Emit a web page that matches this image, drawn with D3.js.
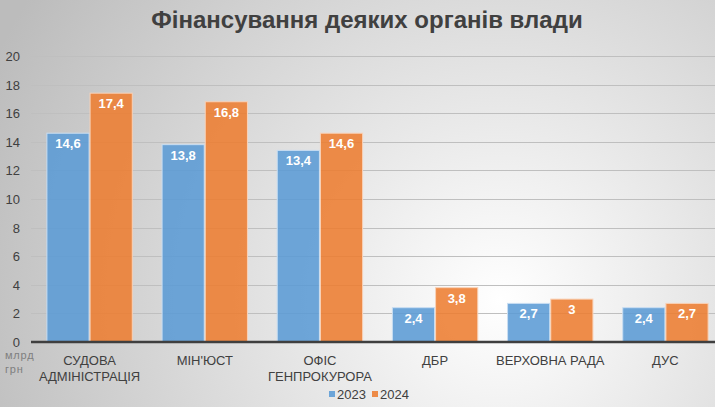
<!DOCTYPE html>
<html>
<head>
<meta charset="utf-8">
<script src="https://cdn.jsdelivr.net/npm/d3@7"></script>
<style>
  html, body { margin: 0; padding: 0; overflow: hidden; }
  svg { display: block; font-family: "Liberation Sans", Arial, sans-serif; }
</style>
</head>
<body>
<svg id="chart" width="715" height="407"></svg>
<script>
// data
const categories = [["СУДОВА", "АДМІНІСТРАЦІЯ"], ["МІН'ЮСТ"], ["ОФІС", "ГЕНПРОКУРОРА"], ["ДБР"], ["ВЕРХОВНА РАДА"], ["ДУС"]];
const years = ["2023", "2024"];
const values2023 = [14.6, 13.8, 13.4, 2.4, 2.7, 2.4];
const values2024 = [17.4, 16.8, 14.6, 3.8, 3, 2.7];
const yTicks = [0, 2, 4, 6, 8, 10, 12, 14, 16, 18, 20];

const W = 715, H = 407;
const fills = ["#5b9bd5", "#ed7d31"];
const strokes = ["#c9def2", "#f9d2b8"];

const svg = d3.select("#chart");

// background
const defs = svg.append("defs");
const bg = defs.append("radialGradient")
  .attr("id", "bg")
  .attr("gradientUnits", "userSpaceOnUse")
  .attr("cx", 500).attr("cy", 300).attr("r", 560);
bg.append("stop").attr("offset", "0%").attr("stop-color", "#ffffff");
bg.append("stop").attr("offset", "100%").attr("stop-color", "#bcbcbc");
svg.append("rect").attr("width", W).attr("height", H).attr("fill", "url(#bg)");

// title
svg.append("text")
  .attr("x", 367).attr("y", 28)
  .attr("text-anchor", "middle")
  .attr("font-size", 24)
  .attr("font-weight", "bold")
  .attr("fill", "#404040")
  .text("Фінансування деяких органів влади");

const x0 = d3.scaleBand()
  .domain(d3.range(categories.length))
  .range([32, 723])
  .paddingInner(0.25)
  .paddingOuter(0.125);

const x1 = d3.scaleBand()
  .domain(years)
  .range([0, x0.bandwidth()]);

const y = d3.scaleLinear().domain([0, 20]).range([342, 56]);

// grid
svg.append("g")
  .selectAll("line")
  .data(yTicks.filter(d => d > 0))
  .join("line")
  .attr("x1", 31).attr("x2", W)
  .attr("y1", d => Math.round(y(d)) + 0.5)
  .attr("y2", d => Math.round(y(d)) + 0.5)
  .attr("stroke", "#bfbfbf");

// y tick labels
svg.append("g")
  .selectAll("text")
  .data(yTicks)
  .join("text")
  .attr("x", 20)
  .attr("y", d => y(d) + 5)
  .attr("text-anchor", "end")
  .attr("font-size", 13)
  .attr("fill", "#404040")
  .text(d => d);

// bars
const rows = categories.map((c, i) => ({ i, vals: [values2023[i], values2024[i]] }));

const group = svg.append("g")
  .selectAll("g")
  .data(rows)
  .join("g")
  .attr("transform", d => `translate(${x0(d.i)},0)`);

const bar = group.selectAll("g")
  .data(d => d.vals.map((v, k) => ({ v, k })))
  .join("g");

bar.append("rect")
  .attr("x", d => x1(years[d.k]) + 0.5)
  .attr("width", x1.bandwidth() - 1)
  .attr("y", d => y(d.v))
  .attr("height", d => y(0) - y(d.v))
  .attr("fill", d => fills[d.k])
  .attr("fill-opacity", 0.88)
  .attr("stroke", d => strokes[d.k])
  .attr("stroke-width", 1);

bar.append("text")
  .attr("x", d => x1(years[d.k]) + x1.bandwidth() / 2)
  .attr("y", d => y(d.v) + 15)
  .attr("text-anchor", "middle")
  .attr("font-size", 13)
  .attr("font-weight", "bold")
  .attr("fill", "#ffffff")
  .text(d => String(d.v).replace(".", ","));

// baseline
svg.append("line")
  .attr("x1", 31).attr("x2", W)
  .attr("y1", y(0)).attr("y2", y(0))
  .attr("stroke", "#3f3f3f")
  .attr("stroke-width", 2.5);

// category labels
const cat = svg.append("g")
  .selectAll("text")
  .data(categories)
  .join("text")
  .attr("x", (d, i) => x0(i) + x0.bandwidth() / 2)
  .attr("y", 365)
  .attr("text-anchor", "middle")
  .attr("font-size", 13)
  .attr("fill", "#404040");
cat.selectAll("tspan")
  .data(d => d)
  .join("tspan")
  .attr("x", function() { return this.parentNode.getAttribute("x"); })
  .attr("dy", (d, j) => j === 0 ? 0 : 16)
  .text(d => d);

// unit label
svg.append("text")
  .attr("x", 5).attr("y", 359)
  .attr("font-size", 11)
  .attr("letter-spacing", 0.8)
  .attr("fill", "#7f7f7f")
  .selectAll("tspan")
  .data(["млрд", "грн"])
  .join("tspan")
  .attr("x", 5)
  .attr("dy", (d, j) => j === 0 ? 0 : 14)
  .text(d => d);

// legend
const legend = svg.append("g").attr("transform", "translate(329,399)");
years.forEach((yr, k) => {
  const g = legend.append("g").attr("transform", `translate(${k * 43},0)`);
  g.append("rect")
    .attr("x", 0).attr("y", -8)
    .attr("width", 6).attr("height", 6)
    .attr("fill", fills[k]).attr("fill-opacity", 0.88);
  g.append("text")
    .attr("x", 8).attr("y", 0)
    .attr("font-size", 13)
    .attr("fill", "#404040")
    .text(yr);
});
</script>
</body>
</html>
